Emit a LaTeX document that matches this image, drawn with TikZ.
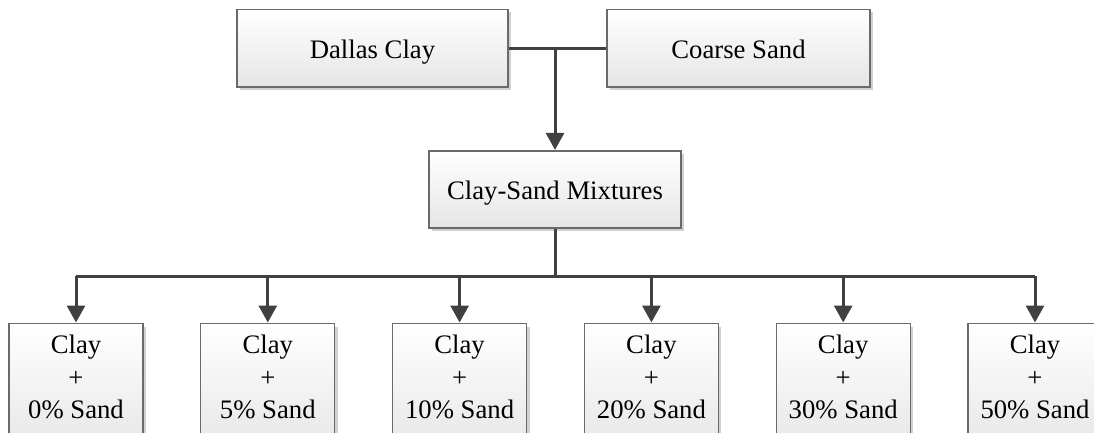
\documentclass[tikz,border=0pt]{standalone}
\usepackage{fontspec}
\setmainfont{Liberation Serif}
\usetikzlibrary{arrows.meta,shadows}
\definecolor{linec}{HTML}{404040}
\definecolor{boxline}{HTML}{6A6A6A}
\begin{document}
\begin{tikzpicture}[x=1pt,y=-1pt,
  box/.style={draw=boxline, line width=1.2pt, top color=white, bottom color=black!10,
    drop shadow={shadow xshift=3pt, shadow yshift=-3pt, fill=black!18, opacity=1},
    inner sep=0pt, font=\fontsize{26.7}{32.5}\selectfont},
  lbl/.style={inner sep=0pt, align=center, font=\fontsize{26.7}{32.5}\selectfont},
  conn/.style={draw=linec, line width=3pt},
  arr/.style={conn, -{Triangle[length=17pt,width=18pt]}, shorten >=0.5pt}]
\useasboundingbox (0,0) rectangle (1094,433);
% top boxes
\node[box, minimum width=271pt, minimum height=77.5pt, text height=21pt, text depth=0pt] (dallas) at (372.5,48.25) {Dallas Clay};
\node[box, minimum width=263pt, minimum height=77.5pt, text height=21pt, text depth=0pt] (coarse) at (738.5,48.25) {Coarse Sand};
\node[box, minimum width=252pt, minimum height=77pt, text height=19.5pt, text depth=0pt] (mix) at (555,189.5) {Clay-Sand Mixtures};
\coordinate (j1) at (555,48.25);
\coordinate (j2) at (555,276);
\draw[conn] (dallas.east) -- (coarse.west);
\draw[arr] (j1) -- (mix.north);
\draw[conn] (mix.south) -- (j2);
% bottom boxes
\foreach \i/\x/\p in {1/76/0,2/267.8/5,3/459.6/10,4/651.4/20,5/843.2/30,6/1035/50}{
  \node[box, minimum width=134pt, minimum height=130pt, anchor=north] (b\i) at (\x,323) {};
  \node[lbl] (t\i) at (\x,377.4) {Clay\\+\\\p\% Sand};
  \coordinate (h\i) at (\x,276);
}
\draw[conn] (h1) -- (h6);
\foreach \i in {1,...,6}{
  \draw[arr] (h\i) -- (b\i.north);
}
\end{tikzpicture}
\end{document}
